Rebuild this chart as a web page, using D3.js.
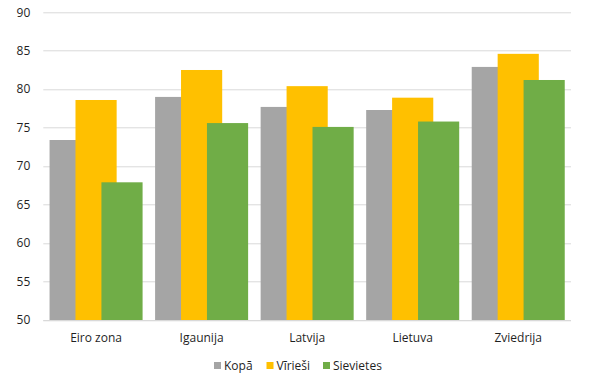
<!DOCTYPE html>
<html>
<head>
<meta charset="utf-8">
<script src="https://cdn.jsdelivr.net/npm/d3@7"></script>
<style>
  body { margin: 0; background: #fff; }
  text { font-family: "Open Sans", "Liberation Sans", sans-serif; }
</style>
</head>
<body>
<svg id="chart" width="595" height="381"></svg>
<script>
// Chart data
const categories = ['Eiro zona', 'Igaunija', 'Latvija', 'Lietuva', 'Zviedrija'];
const seriesNames = ['Kopā', 'Vīrieši', 'Sievietes'];
const kopa = [73.4, 79.0, 77.7, 77.3, 82.9];
const viriesi = [78.6, 82.5, 80.4, 78.9, 84.6];
const sievietes = [67.9, 75.6, 75.1, 75.8, 81.2];
const yTicks = [50, 55, 60, 65, 70, 75, 80, 85, 90];

const seriesValues = [kopa, viriesi, sievietes];
const colors = ['#A5A5A5', '#FFC000', '#70AD47'];

let margin = {top: 12.3, right: 24, bottom: 61, left: 43.3};
let width = 595 - margin.left - margin.right;
let height = 381 - margin.top - margin.bottom;

let svg = d3.select('#chart').append('g')
    .attr('transform', 'translate(' + margin.left + ',' + margin.top + ')');

let x = d3.scaleBand()
    .domain(categories)
    .range([0, width])
    .paddingInner(0)
    .paddingOuter(0);

let y = d3.scaleLinear()
    .domain([50, 90])
    .range([height, 0]);

// overlapping bars, Excel-like: bar width and step inside a category
let barW = x.bandwidth() * 0.39;
let step = barW * 0.63;
let groupW = barW + 2 * step;
let groupOffset = (x.bandwidth() - groupW) / 2;

// gridlines
svg.append('g')
    .selectAll('line')
    .data(yTicks)
    .enter().append('line')
    .attr('x1', 0)
    .attr('x2', width)
    .attr('y1', d => Math.round(y(d)) + 0.5)
    .attr('y2', d => Math.round(y(d)) + 0.5)
    .attr('stroke', '#d9d9d9')
    .attr('stroke-width', 1);

// y tick labels
svg.append('g')
    .selectAll('text')
    .data(yTicks)
    .enter().append('text')
    .attr('x', -13)
    .attr('y', d => y(d))
    .attr('dy', '0.35em')
    .attr('text-anchor', 'end')
    .attr('font-size', 12)
    .attr('fill', '#1f1f1f')
    .text(d => d);

// bars
seriesValues.forEach((vals, si) => {
    svg.append('g')
        .selectAll('rect')
        .data(vals.map((v, i) => ({cat: categories[i], v: v})))
        .enter().append('rect')
        .attr('x', d => x(d.cat) + groupOffset + si * step)
        .attr('width', barW)
        .attr('y', d => y(d.v))
        .attr('height', d => height - y(d.v))
        .attr('fill', colors[si]);
});

// x axis line
svg.append('line')
    .attr('x1', 0)
    .attr('x2', width)
    .attr('y1', height + 0.5)
    .attr('y2', height + 0.5)
    .attr('stroke', '#d9d9d9');

// x labels
svg.append('g')
    .selectAll('text')
    .data(categories)
    .enter().append('text')
    .attr('x', d => x(d) + x.bandwidth() / 2)
    .attr('y', height + 22)
    .attr('text-anchor', 'middle')
    .attr('font-size', 12)
    .attr('fill', '#1f1f1f')
    .text(d => d);

// legend
let legendX = [214, 266.5, 323];
let legend = d3.select('#chart').append('g');
seriesNames.forEach((name, i) => {
    legend.append('rect')
        .attr('x', legendX[i])
        .attr('y', 362)
        .attr('width', 7)
        .attr('height', 7)
        .attr('fill', colors[i]);
    legend.append('text')
        .attr('x', legendX[i] + 10)
        .attr('y', 366)
        .attr('dy', '0.35em')
        .attr('font-size', 12)
        .attr('fill', '#1f1f1f')
        .text(name);
});
</script>
</body>
</html>
